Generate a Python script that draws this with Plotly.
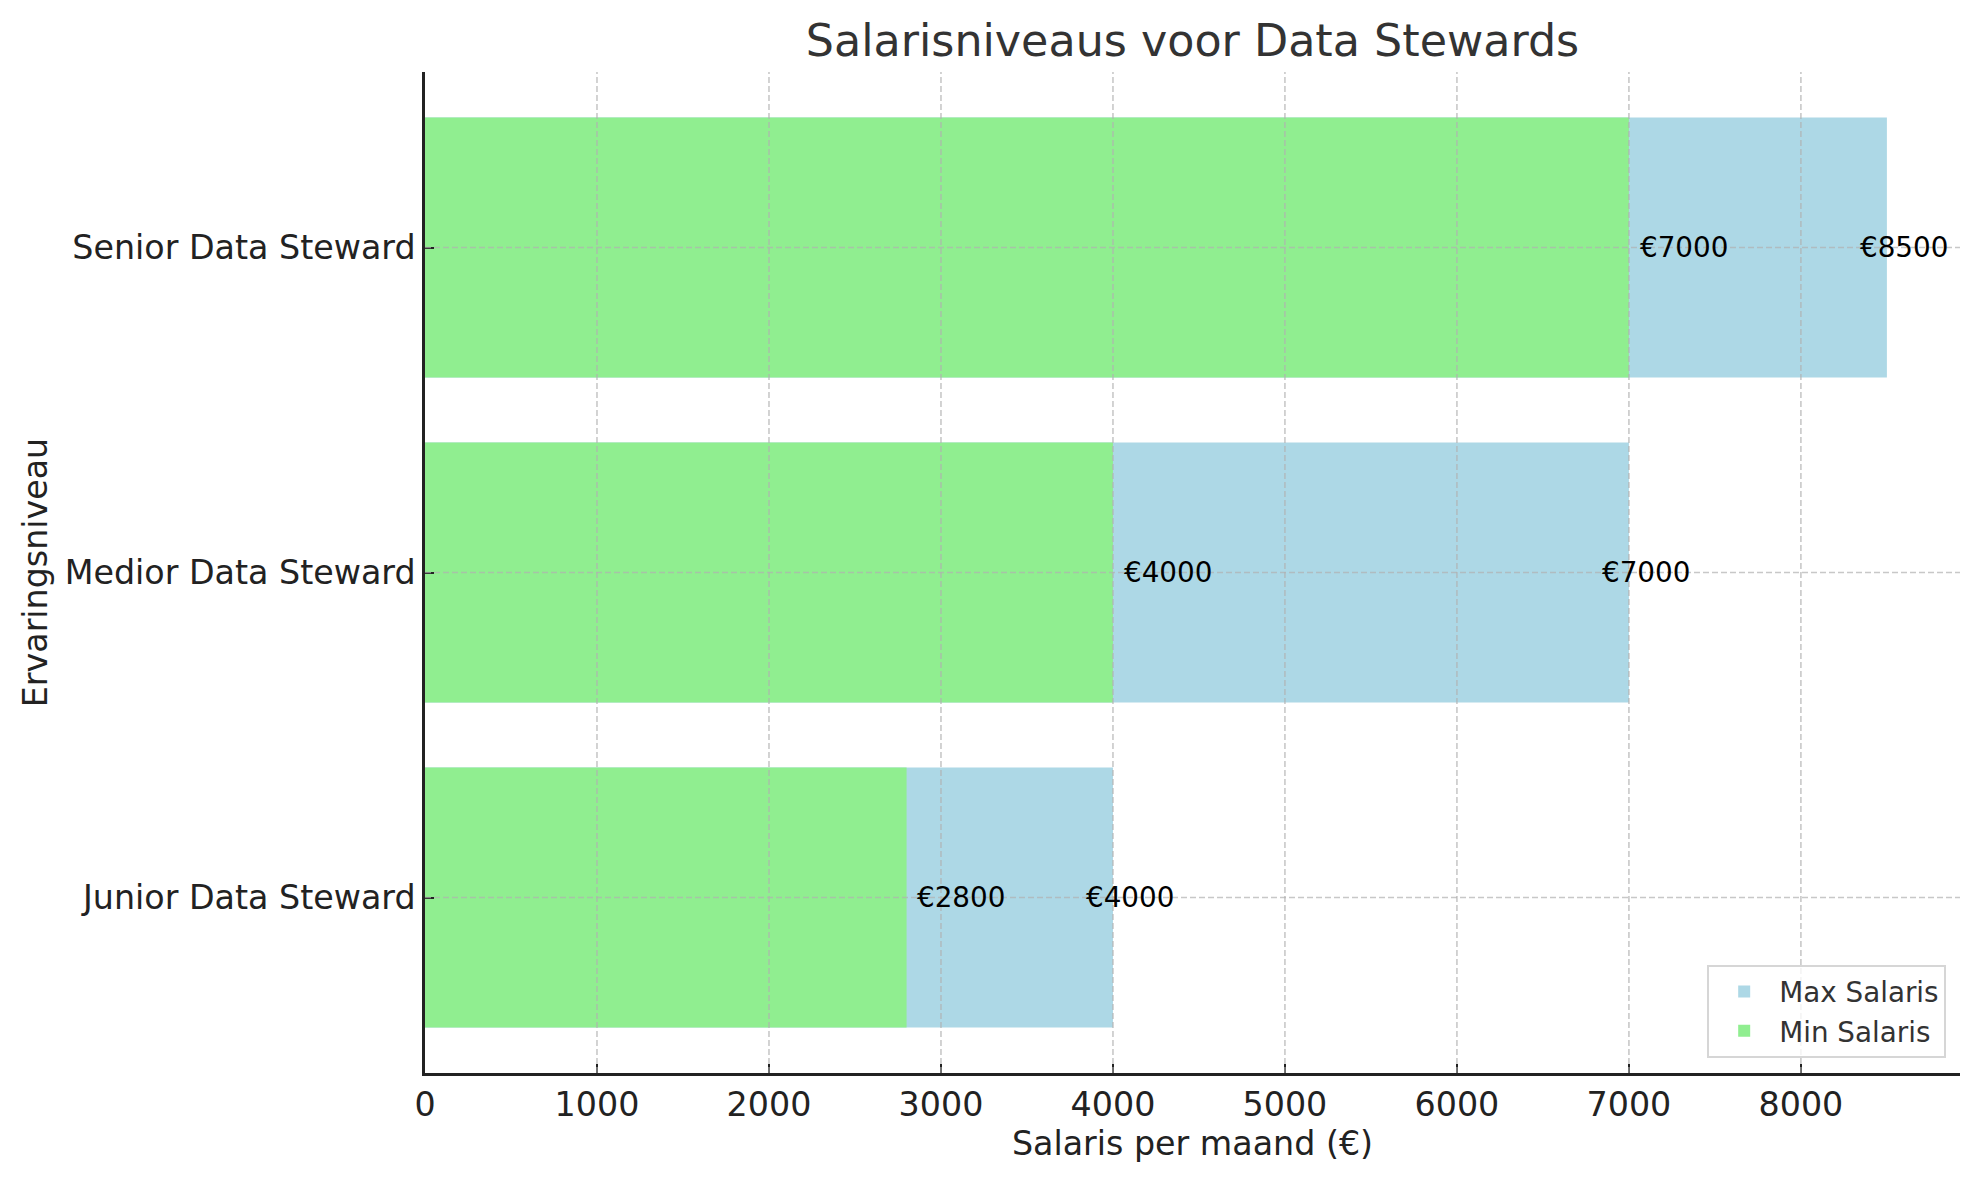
# %%
import plotly.graph_objects as go

# data
niveaus = ['Junior Data Steward', 'Medior Data Steward', 'Senior Data Steward']
min_salaris = [2800, 4000, 7000]
max_salaris = [4000, 7000, 8500]
x_ticks = [0, 1000, 2000, 3000, 4000, 5000, 6000, 7000, 8000]

font_fam = 'DejaVu Sans'

# %%
fig = go.Figure()
fig.add_trace(go.Bar(y=niveaus, x=max_salaris, orientation='h', name='Max Salaris'
                     ,marker=dict(color='lightblue', line_width=0), width=0.8))
fig.add_trace(go.Bar(y=niveaus, x=min_salaris, orientation='h', name='Min Salaris'
                     ,marker=dict(color='lightgreen', line_width=0), width=0.8))

# labels bij de balken
for n, lo, hi in zip(niveaus, min_salaris, max_salaris):
    fig.add_annotation(x=lo + 50, y=n, text='€{}'.format(lo), showarrow=False
                       ,xanchor='left', yanchor='middle'
                       ,font=dict(size=27.8, color='black', family=font_fam))
    fig.add_annotation(x=hi + 100, y=n, text='€{}'.format(hi), showarrow=False
                       ,xanchor='center', yanchor='middle'
                       ,font=dict(size=27.8, color='black', family=font_fam))

# gridlijnen boven de balken (zoals matplotlib)
for t in x_ticks[1:]:
    fig.add_shape(type='line', xref='x', yref='paper', x0=t, x1=t, y0=0, y1=1
                  ,line=dict(color='rgba(176,176,176,0.7)', width=1.6, dash='6px,3px'), layer='above')
for n in niveaus:
    fig.add_shape(type='line', xref='paper', yref='y', x0=0, x1=1, y0=n, y1=n
                  ,line=dict(color='rgba(176,176,176,0.7)', width=1.6, dash='6px,3px'), layer='above')

# pagina heeft 8px body-marge, dus figuur iets kleiner
fig.update_layout(width=1971, height=1172
                  ,barmode='overlay'
                  ,plot_bgcolor='white', paper_bgcolor='white'
                  ,margin=dict(l=417, r=19, t=64, b=107)
                  ,font=dict(family=font_fam, color='#222222')
                  ,title=dict(text='Salarisniveaus voor Data Stewards', x=(417 + 1952) / 2 / 1971, xanchor='center'
                              ,y=1 - 32 / 1172, yanchor='middle'
                              ,font=dict(size=44.4, color='#333333'))
                  ,legend=dict(x=0.991, y=0.015, xanchor='right', yanchor='bottom'
                               ,bgcolor='rgba(255,255,255,0.8)', bordercolor='#d6d6d6', borderwidth=2
                               ,font=dict(size=27.8, color='#333333'), traceorder='normal'
                               ,itemwidth=60, tracegroupgap=4)
                  ,showlegend=True)

fig.update_xaxes(range=[0, 8925], tickvals=x_ticks, showgrid=False, zeroline=False
                 ,showline=True, linecolor='#222222', linewidth=2.5
                 ,ticks='inside', ticklen=9, tickwidth=2.2, tickcolor='#222222'
                 ,tickfont=dict(size=33.3, color='#222222')
                 ,title=dict(text='Salaris per maand (€)', font=dict(size=33.3, color='#222222'), standoff=6))
fig.update_yaxes(type='category', categoryorder='array', categoryarray=niveaus
                 ,range=[-0.54, 2.54], showgrid=False, zeroline=False
                 ,showline=True, linecolor='#222222', linewidth=2.5
                 ,ticks='inside', ticklen=9, tickwidth=2.2, tickcolor='#222222'
                 ,tickfont=dict(size=33.3, color='#222222')
                 ,title=dict(text='Ervaringsniveau', font=dict(size=33.3, color='#222222'), standoff=8))

fig.write_html("out.html")
